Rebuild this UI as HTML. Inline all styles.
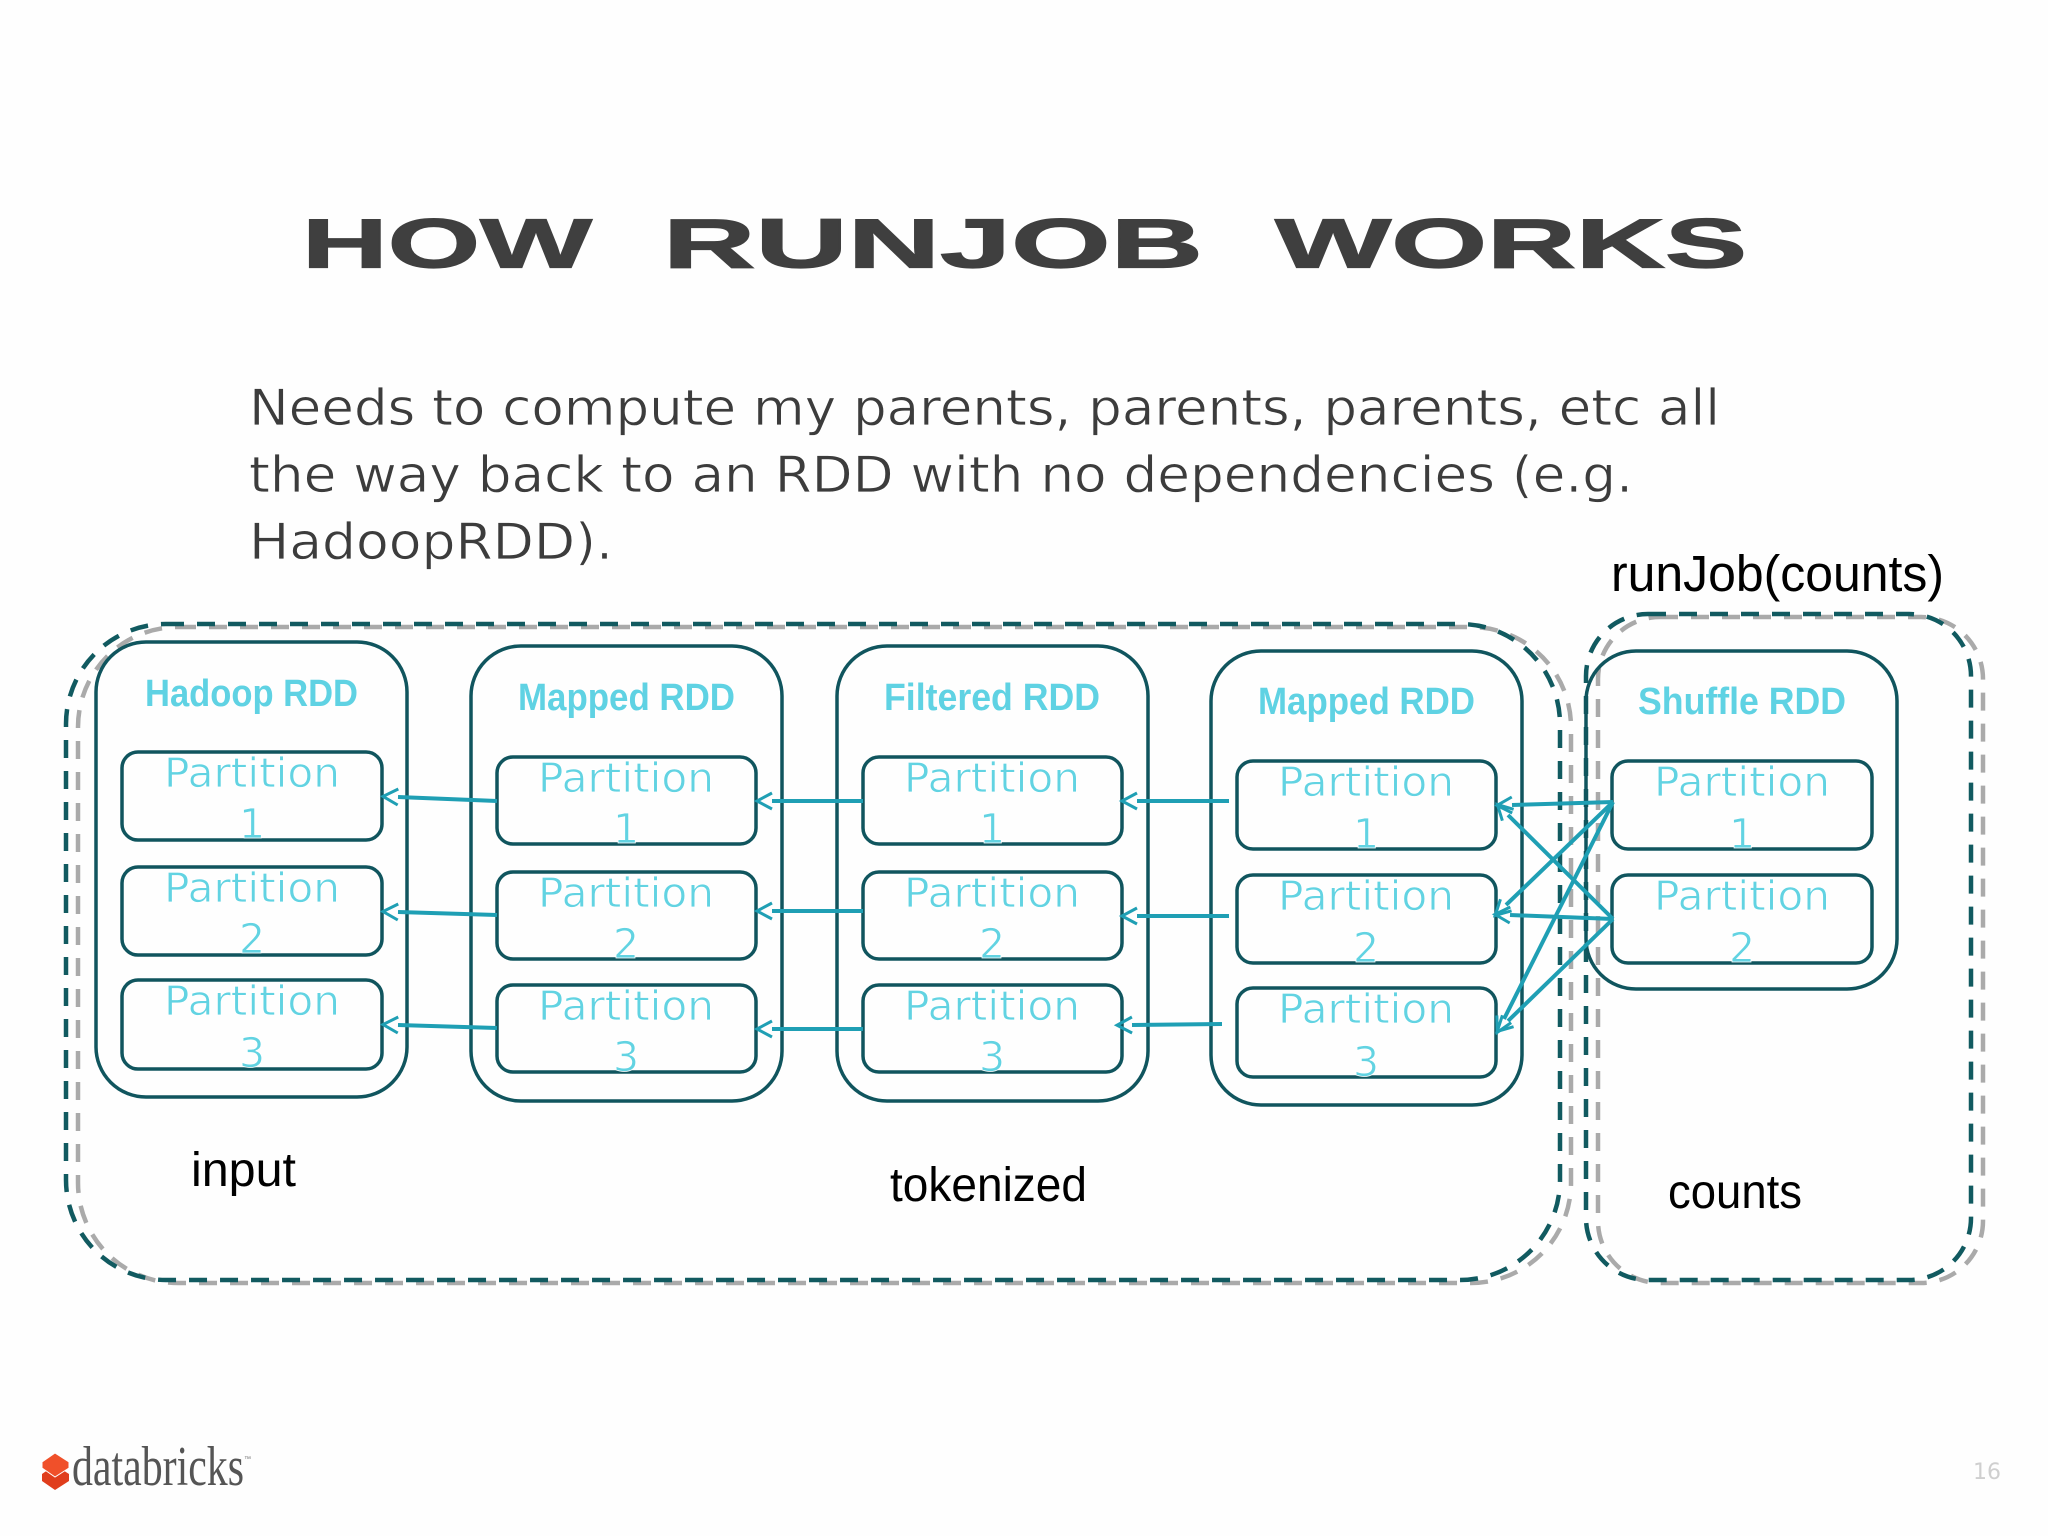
<!DOCTYPE html>
<html><head><meta charset="utf-8"><style>
html,body{margin:0;padding:0;background:#fefefe}
svg{display:block}
.b{fill:none;stroke:#10555e;stroke-width:3.5}
.p{font:41px "DejaVu Sans",sans-serif;fill:#62d3e2;text-anchor:middle;stroke:#fff;stroke-width:.8}
.h{font:bold 38px "Liberation Sans",sans-serif;fill:#5fd2e3}
.t{font:bold 70px "Liberation Sans",sans-serif;fill:#3f3f3f;stroke:#3f3f3f;stroke-width:1.2}
.x{font:50px "DejaVu Sans",sans-serif;fill:#3c3c3c;stroke:#fff;stroke-width:.7}
.l{font:48px "Liberation Sans",sans-serif;fill:#000}
.a line{stroke:#1f9fb4;stroke-width:4;marker-end:url(#m)}
</style></head><body>
<svg width="2048" height="1536" viewBox="0 0 2048 1536" xmlns="http://www.w3.org/2000/svg">
<defs><marker id="m" markerUnits="userSpaceOnUse" markerWidth="24" markerHeight="24" refX="1" refY="12" orient="auto"><path d="M16,4 L1,12 L16,20" transform="translate(17,24) rotate(180) translate(0,0)" fill="none" stroke="#1f9fb4" stroke-width="3"/></marker></defs>
<rect width="2048" height="1536" fill="#fefefe"/>

<text class="t" x="302" y="267.500" textLength="290" lengthAdjust="spacingAndGlyphs">HOW</text>
<text class="t" x="663" y="267.500" textLength="540" lengthAdjust="spacingAndGlyphs">RUNJOB</text>
<text class="t" x="1275" y="267.500" textLength="472" lengthAdjust="spacingAndGlyphs">WORKS</text>

<text class="x" x="249" y="425" textLength="1471" lengthAdjust="spacingAndGlyphs">Needs to compute my parents, parents, parents, etc all</text>
<text class="x" x="249" y="492" textLength="1384" lengthAdjust="spacingAndGlyphs">the way back to an RDD with no dependencies (e.g.</text>
<text class="x" x="249" y="559" textLength="364" lengthAdjust="spacingAndGlyphs">HadoopRDD).</text>
<text class="l" x="1611" y="591" style="font-size:51px" textLength="333" lengthAdjust="spacingAndGlyphs">runJob(counts)</text>

<!-- dashed groups -->
<g fill="none" stroke-width="4.5" stroke-dasharray="18 13">
<rect x="78" y="627" width="1493" height="656" rx="100" stroke="#aaaaaa"/>
<rect x="66" y="624" width="1494" height="656" rx="100" stroke="#115a60"/>
<rect x="1598" y="617" width="385" height="666" rx="62" stroke="#aaaaaa"/>
<rect x="1586" y="614" width="385" height="666" rx="62" stroke="#115a60"/>
</g>

<!-- outer boxes -->
<rect class="b" x="96" y="642" width="311" height="455" rx="50"/>
<rect class="b" x="471" y="646" width="311" height="455" rx="50"/>
<rect class="b" x="837" y="646" width="311" height="455" rx="50"/>
<rect class="b" x="1211" y="651" width="311" height="454" rx="50"/>
<rect class="b" x="1586" y="651" width="311" height="338" rx="50"/>

<!-- partitions -->
<g class="b">
<rect x="122" y="752" width="260" height="88" rx="16"/><rect x="122" y="867" width="260" height="88" rx="16"/><rect x="122" y="980" width="260" height="89" rx="16"/>
<rect x="497" y="757" width="259" height="87" rx="16"/><rect x="497" y="872" width="259" height="87" rx="16"/><rect x="497" y="985" width="259" height="87" rx="16"/>
<rect x="863" y="757" width="259" height="87" rx="16"/><rect x="863" y="872" width="259" height="87" rx="16"/><rect x="863" y="985" width="259" height="87" rx="16"/>
<rect x="1237" y="761" width="259" height="88" rx="16"/><rect x="1237" y="875" width="259" height="88" rx="16"/><rect x="1237" y="988" width="259" height="89" rx="16"/>
<rect x="1612" y="761" width="260" height="88" rx="16"/><rect x="1612" y="875" width="260" height="88" rx="16"/>
</g>

<!-- RDD labels -->
<text class="h" x="145" y="706" textLength="213" lengthAdjust="spacingAndGlyphs">Hadoop RDD</text>
<text class="h" x="518" y="710" textLength="217" lengthAdjust="spacingAndGlyphs">Mapped RDD</text>
<text class="h" x="884" y="710" textLength="216" lengthAdjust="spacingAndGlyphs">Filtered RDD</text>
<text class="h" x="1258" y="714" textLength="217" lengthAdjust="spacingAndGlyphs">Mapped RDD</text>
<text class="h" x="1638" y="714" textLength="208" lengthAdjust="spacingAndGlyphs">Shuffle RDD</text>

<!-- partition text -->
<g class="p">
<text x="252" y="787" textLength="176" lengthAdjust="spacingAndGlyphs">Partition</text><text x="252" y="838">1</text>
<text x="252" y="902" textLength="176" lengthAdjust="spacingAndGlyphs">Partition</text><text x="252" y="953">2</text>
<text x="252" y="1015" textLength="176" lengthAdjust="spacingAndGlyphs">Partition</text><text x="252" y="1067">3</text>
<text x="626" y="792" textLength="176" lengthAdjust="spacingAndGlyphs">Partition</text><text x="626" y="843">1</text>
<text x="626" y="907" textLength="176" lengthAdjust="spacingAndGlyphs">Partition</text><text x="626" y="958">2</text>
<text x="626" y="1020" textLength="176" lengthAdjust="spacingAndGlyphs">Partition</text><text x="626" y="1071">3</text>
<text x="992" y="792" textLength="176" lengthAdjust="spacingAndGlyphs">Partition</text><text x="992" y="843">1</text>
<text x="992" y="907" textLength="176" lengthAdjust="spacingAndGlyphs">Partition</text><text x="992" y="958">2</text>
<text x="992" y="1020" textLength="176" lengthAdjust="spacingAndGlyphs">Partition</text><text x="992" y="1071">3</text>
<text x="1366" y="796" textLength="176" lengthAdjust="spacingAndGlyphs">Partition</text><text x="1366" y="848">1</text>
<text x="1366" y="910" textLength="176" lengthAdjust="spacingAndGlyphs">Partition</text><text x="1366" y="962">2</text>
<text x="1366" y="1023" textLength="176" lengthAdjust="spacingAndGlyphs">Partition</text><text x="1366" y="1076">3</text>
<text x="1742" y="796" textLength="176" lengthAdjust="spacingAndGlyphs">Partition</text><text x="1742" y="848">1</text>
<text x="1742" y="910" textLength="176" lengthAdjust="spacingAndGlyphs">Partition</text><text x="1742" y="962">2</text>
</g>

<!-- arrows -->
<g class="a">
<line x1="497" y1="801" x2="398" y2="797"/>
<line x1="497" y1="915" x2="398" y2="912"/>
<line x1="497" y1="1028" x2="398" y2="1025"/>
<line x1="863" y1="801" x2="772" y2="801"/>
<line x1="863" y1="911" x2="772" y2="911"/>
<line x1="863" y1="1029" x2="772" y2="1029"/>
<line x1="1229" y1="801" x2="1137" y2="801"/>
<line x1="1229" y1="916" x2="1137" y2="916"/>
<line x1="1222" y1="1024" x2="1132" y2="1025"/>
<line x1="1613" y1="802" x2="1512" y2="805"/>
<line x1="1613" y1="802" x2="1506" y2="905"/>
<line x1="1613" y1="802" x2="1504" y2="1019"/>
<line x1="1613" y1="919" x2="1508" y2="815"/>
<line x1="1613" y1="919" x2="1510" y2="915"/>
<line x1="1613" y1="919" x2="1508" y2="1021"/>
</g>

<text class="l" x="191" y="1186" textLength="105" lengthAdjust="spacingAndGlyphs">input</text>
<text class="l" x="890" y="1201" textLength="197" lengthAdjust="spacingAndGlyphs">tokenized</text>
<text class="l" x="1668" y="1208" textLength="134" lengthAdjust="spacingAndGlyphs">counts</text>

<!-- logo -->
<path d="M42,1474 L55,1465 L69,1474 L69,1481 L55,1490 L42,1481 Z" fill="#e03d1c"/>
<path d="M42,1462 L55,1453 L69,1462 L69,1468 L55,1477 L42,1468 Z" fill="#f0502a" stroke="#fefefe" stroke-width="1"/>
<text x="72" y="1485" style="font:56px 'Liberation Serif',serif;fill:#555" textLength="172" lengthAdjust="spacingAndGlyphs">databricks</text>
<text x="244" y="1461" style="font:7px 'Liberation Sans',sans-serif;fill:#777">™</text>
<text x="1973" y="1479" style="font:22px 'DejaVu Sans',sans-serif;fill:#cfcfcf">16</text>
</svg>
</body></html>
